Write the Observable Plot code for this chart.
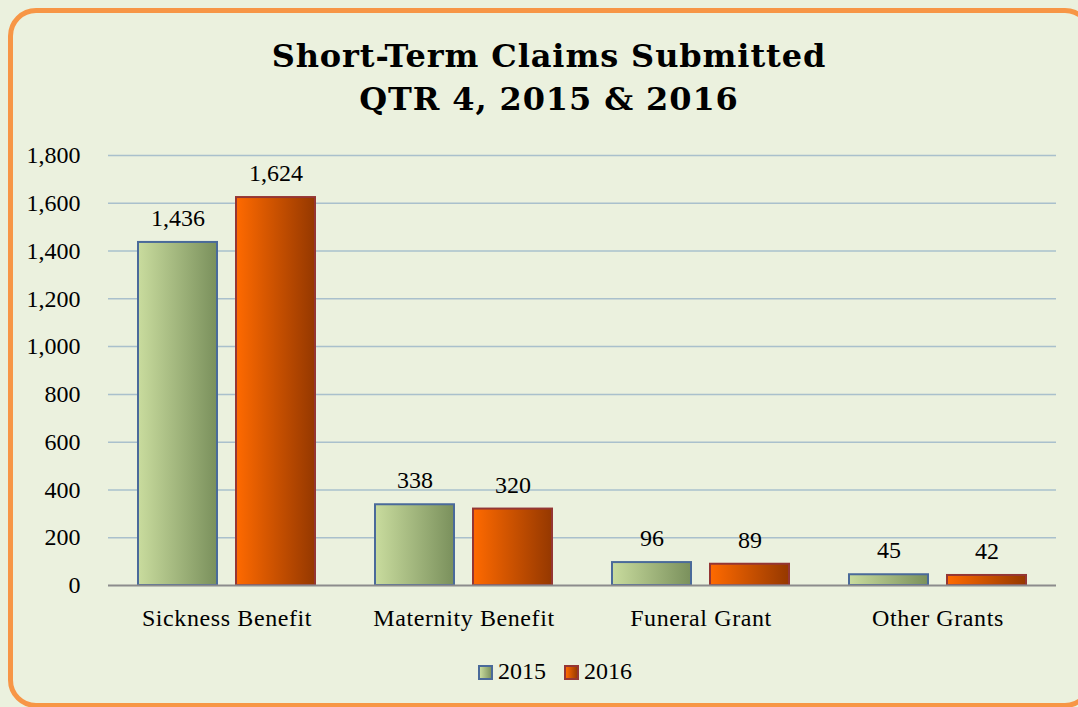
<!DOCTYPE html>
<html>
<head>
<meta charset="utf-8">
<script src="https://cdn.jsdelivr.net/npm/d3@7"></script>
<script src="https://cdn.jsdelivr.net/npm/@observablehq/plot@0.6"></script>
<style>
  html, body { margin: 0; padding: 0; width: 1078px; height: 707px; overflow: hidden; background: #EBF1DE; }
  #frame { position: absolute; left: 8px; top: 8px; width: 1085px; height: 700px; border: 5px solid #F79646; border-radius: 28px; background: #EBF1DE; box-sizing: border-box; }
  #title { position: absolute; left: 0; width: 1098px; top: 35px; text-align: center; font-family: "DejaVu Serif", serif; font-weight: bold; font-size: 32px; letter-spacing: 0.9px; line-height: 43px; color: #000; }
  #chart { position: absolute; left: 0; top: 130px; }
  #legend { position: absolute; left: 0; width: 1110px; top: 658px; text-align: center; font-family: "Liberation Serif", serif; font-size: 24px; color: #000; }
  .sw { display: inline-block; width: 15px; height: 15px; margin-right: 5px; vertical-align: -1px; box-sizing: border-box; }
  #chart svg [aria-label="fx-axis tick label"] text { letter-spacing: 0.6px; }
</style>
</head>
<body>
<div id="frame"></div>
<div id="title">Short-Term Claims Submitted<br>QTR 4, 2015 &amp; 2016</div>
<div id="chart"></div>
<div id="legend"><span class="sw" style="background:linear-gradient(to right,#C9DC9E,#7E9460);border:2px solid #4A6A9A"></span>2015&nbsp;&nbsp; <span class="sw" style="background:linear-gradient(to right,#FF6A00,#9A3B00);border:2px solid #943634"></span>2016</div>
<script>
const categories = ["Sickness Benefit", "Maternity Benefit", "Funeral Grant", "Other Grants"];
const years = ["2015", "2016"];
const values2015 = [1436, 338, 96, 45];
const values2016 = [1624, 320, 89, 42];
const yTicks = [0, 200, 400, 600, 800, 1000, 1200, 1400, 1600, 1800];

const data = [];
categories.forEach((c, i) => {
  data.push({category: c, year: "2015", value: values2015[i]});
  data.push({category: c, year: "2016", value: values2016[i]});
});

const plot = Plot.plot({
  width: 1078,
  height: 520,
  marginLeft: 106,
  marginRight: 21,
  marginTop: 25,
  marginBottom: 65,
  style: {background: "transparent", fontFamily: "Liberation Serif, serif", fontSize: "24px", color: "#000", overflow: "visible"},
  fx: {domain: categories, padding: 0, label: null, axis: "bottom", tickSize: 0, tickPadding: 23},
  x: {domain: years, paddingInner: 0.19, paddingOuter: 0.297, axis: null},
  y: {domain: [0, 1800], ticks: yTicks, tickFormat: d3.format(","), label: null, tickSize: 0, tickPadding: 28, grid: false},
  color: {domain: years, range: ["url(#g2015)", "url(#g2016)"]},
  marks: [
    Plot.ruleY(yTicks.filter(d => d > 0), {stroke: "#A9C0CC", strokeWidth: 1.5, strokeOpacity: 1}),
    Plot.barY(data, {fx: "category", x: "year", y: "value", fill: "year",
      stroke: d => d.year === "2015" ? "#4A6A9A" : "#943634", strokeWidth: 2}),
    Plot.ruleY([0], {stroke: "#8C8C8C", strokeWidth: 2}),
    Plot.text(data, {fx: "category", x: "year", y: "value", text: d => d3.format(",")(d.value), dy: -24, fontSize: 24, fill: "#000"})
  ]
});

const defs = d3.select(plot).insert("defs", ":first-child");
const g1 = defs.append("linearGradient").attr("id", "g2015").attr("x1", "0").attr("x2", "1").attr("y1", "0").attr("y2", "0");
g1.append("stop").attr("offset", "0").attr("stop-color", "#C9DC9E");
g1.append("stop").attr("offset", "1").attr("stop-color", "#7A905C");
const g2 = defs.append("linearGradient").attr("id", "g2016").attr("x1", "0").attr("x2", "1").attr("y1", "0").attr("y2", "0");
g2.append("stop").attr("offset", "0").attr("stop-color", "#FF6A00");
g2.append("stop").attr("offset", "1").attr("stop-color", "#953800");

document.getElementById("chart").appendChild(plot);
</script>
</body>
</html>
